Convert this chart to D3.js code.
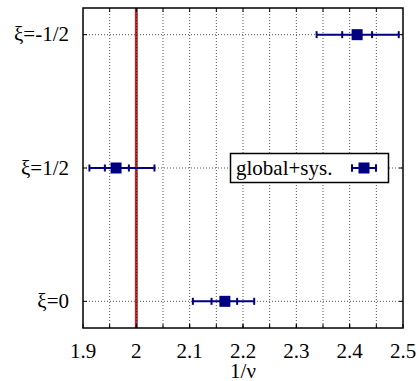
<!DOCTYPE html>
<html>
<head>
<meta charset="utf-8">
<script src="https://cdn.jsdelivr.net/npm/d3@7"></script>
<style>
  html, body { margin: 0; padding: 0; background: #fff; }
  svg { display: block; font-family: "Liberation Serif", "Times New Roman", serif; }
</style>
</head>
<body>
<svg id="chart" width="420" height="381"></svg>
<script>
// Row labels (bottom to top) and the fitted 1/nu values with inner / outer error bounds
const categories = ["ξ=0", "ξ=1/2", "ξ=-1/2"];
const centers    = [2.166, 1.962, 2.414];
const innerLo    = [2.141, 1.941, 2.386];
const innerHi    = [2.189, 1.986, 2.442];
const outerLo    = [2.106, 1.912, 2.338];
const outerHi    = [2.221, 2.034, 2.492];
const xTicks     = [1.9, 2.0, 2.1, 2.2, 2.3, 2.4, 2.5];
const xGrid      = [1.95, 2.0, 2.05, 2.1, 2.15, 2.2, 2.25, 2.3, 2.35, 2.4, 2.45];
const refValue   = 2.0;
const legendLabel = "global+sys.";
const xLabel = "1/ν";

const svg = d3.select("#chart");
const pLeft = 83, pRight = 403, pTop = 8, pBottom = 328;

const x = d3.scaleLinear().domain([1.9, 2.5]).range([pLeft, pRight]);
const y = d3.scaleLinear().domain([-0.2, 2.2]).range([pBottom, pTop]);

const navy = "#000080";
const gridStyle = g => g.attr("stroke", "#555").attr("stroke-width", 1)
  .attr("stroke-dasharray", "1,2");

// vertical grid lines
svg.append("g").selectAll("line").data(xGrid).join("line")
  .attr("x1", d => x(d)).attr("x2", d => x(d))
  .attr("y1", pTop).attr("y2", pBottom)
  .call(gridStyle);

// horizontal grid lines at each row
svg.append("g").selectAll("line").data(categories).join("line")
  .attr("x1", pLeft).attr("x2", pRight)
  .attr("y1", (d, i) => y(i)).attr("y2", (d, i) => y(i))
  .call(gridStyle);

// reference line at 1/nu = 2
svg.append("line")
  .attr("x1", x(refValue)).attr("x2", x(refValue))
  .attr("y1", pTop).attr("y2", pBottom)
  .attr("stroke", "#b03030").attr("stroke-width", 3);
svg.append("line")
  .attr("x1", x(refValue)).attr("x2", x(refValue))
  .attr("y1", pTop).attr("y2", pBottom)
  .attr("stroke", "#5a1010").attr("stroke-width", 1)
  .attr("stroke-dasharray", "1,2");

// axis ticks at grid positions
const tickLen = 4;
svg.append("g").selectAll("line").data(xGrid.concat(xTicks)).join("line")
  .attr("x1", d => x(d)).attr("x2", d => x(d))
  .attr("y1", pBottom).attr("y2", pBottom - tickLen)
  .attr("stroke", "#000").attr("stroke-width", 1);
svg.append("g").selectAll("line").data(xGrid).join("line")
  .attr("x1", d => x(d)).attr("x2", d => x(d))
  .attr("y1", pTop).attr("y2", pTop + tickLen)
  .attr("stroke", "#000").attr("stroke-width", 1);
// row ticks on both sides
svg.append("g").selectAll("line").data(categories).join("line")
  .attr("x1", pLeft).attr("x2", pLeft + tickLen)
  .attr("y1", (d, i) => y(i)).attr("y2", (d, i) => y(i))
  .attr("stroke", "#000");
svg.append("g").selectAll("line").data(categories).join("line")
  .attr("x1", pRight).attr("x2", pRight - tickLen)
  .attr("y1", (d, i) => y(i)).attr("y2", (d, i) => y(i))
  .attr("stroke", "#000");

// x tick labels
svg.append("g").selectAll("text").data(xTicks).join("text")
  .attr("x", d => x(d)).attr("y", 358)
  .attr("text-anchor", "middle").attr("font-size", 21)
  .text(d => d3.format("")(d));

// x axis title
svg.append("text").attr("x", x(2.2)).attr("y", 378)
  .attr("text-anchor", "middle").attr("font-size", 21).text(xLabel);

// row labels
svg.append("g").selectAll("text").data(categories).join("text")
  .attr("x", 69).attr("y", (d, i) => y(i) + 6.5)
  .attr("text-anchor", "end").attr("font-size", 21)
  .text(d => d);

// error bar with caps and square marker
function errorBar(g, cx, cy, lo1, hi1, lo2, hi2, sx) {
  const cap = 3.5;
  g.append("line").attr("x1", sx(lo2)).attr("x2", sx(hi2))
    .attr("y1", cy).attr("y2", cy).attr("stroke", navy).attr("stroke-width", 2);
  [lo1, hi1, lo2, hi2].forEach(v => {
    g.append("line").attr("x1", sx(v)).attr("x2", sx(v))
      .attr("y1", cy - cap).attr("y2", cy + cap)
      .attr("stroke", navy).attr("stroke-width", 2);
  });
  g.append("rect").attr("x", sx(cx) - 5.5).attr("y", cy - 5.5)
    .attr("width", 11).attr("height", 11).attr("fill", navy);
}

const pts = svg.append("g");
categories.forEach((c, i) => {
  errorBar(pts, centers[i], y(i), innerLo[i], innerHi[i], outerLo[i], outerHi[i], x);
});

// frame
svg.append("rect").attr("x", pLeft).attr("y", pTop)
  .attr("width", pRight - pLeft).attr("height", pBottom - pTop)
  .attr("fill", "none").attr("stroke", "#000").attr("stroke-width", 1.5);

// legend
const lg = svg.append("g");
lg.append("rect").attr("x", 230.5).attr("y", 153.5).attr("width", 158).attr("height", 29)
  .attr("fill", "#fff").attr("stroke", "#000").attr("stroke-width", 1.5);
lg.append("text").attr("x", 236).attr("y", 175).attr("font-size", 21).text(legendLabel);
const lx = d3.scaleLinear().domain([0, 1]).range([352, 376]);
errorBar(lg, 0.5, 168, 0, 1, 0, 1, lx);
</script>
</body>
</html>
